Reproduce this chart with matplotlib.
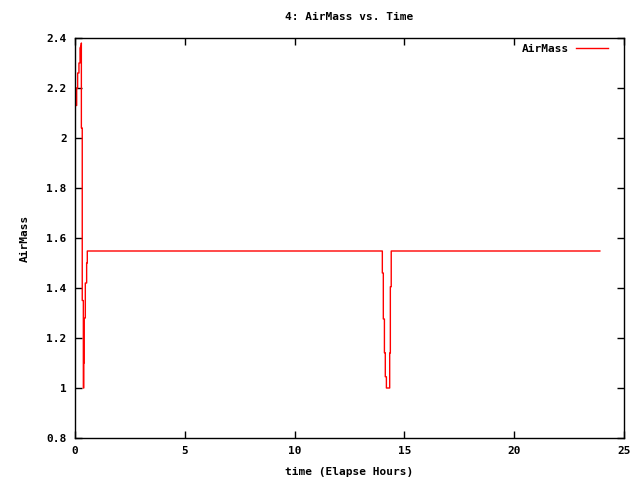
import matplotlib
matplotlib.use("Agg")
import matplotlib.pyplot as plt

# elapsed time (hours) and airmass
time_h = [0.0, 0.0, 0.015, 0.015, 0.076, 0.076, 0.12, 0.12, 0.18, 0.18, 0.23, 0.23,
          0.28, 0.29, 0.29, 0.33, 0.33, 0.38, 0.38, 0.40, 0.40, 0.42, 0.42, 0.47,
          0.47, 0.53, 0.53, 0.56, 0.56,
          13.995, 13.995, 14.04, 14.04, 14.09, 14.09, 14.13, 14.13, 14.18, 14.18,
          14.33, 14.33, 14.36, 14.36, 14.40, 14.40, 23.9]
airmass = [2.07, 2.09, 2.09, 2.13, 2.13, 2.20, 2.20, 2.26, 2.26, 2.30, 2.30, 2.36,
           2.37, 2.38, 2.04, 2.04, 1.35, 1.35, 1.00, 1.00, 1.10, 1.10, 1.28, 1.28,
           1.42, 1.42, 1.50, 1.50, 1.548,
           1.548, 1.46, 1.46, 1.276, 1.276, 1.141, 1.141, 1.045, 1.045, 1.0,
           1.0, 1.14, 1.14, 1.405, 1.405, 1.548, 1.548]

xticks = [0, 5, 10, 15, 20, 25]
yticks = [0.8, 1.0, 1.2, 1.4, 1.6, 1.8, 2.0, 2.2, 2.4]

font = {"family": "DejaVu Sans Mono", "size": 8, "weight": "bold"}

fig = plt.figure(figsize=(6.4, 4.8), dpi=100)
ax = fig.add_axes([75 / 640, 42 / 480, 549 / 640, 400 / 480])

ax.plot(time_h, airmass, color="red", linewidth=1, label="AirMass")

ax.set_xlim(0, 25)
ax.set_ylim(0.8, 2.4)
ax.set_xticks(xticks)
ax.set_yticks(yticks)
ax.set_xticklabels([str(x) for x in xticks], fontdict=font)
ax.set_yticklabels(["%g" % y for y in yticks], fontdict=font)
ax.tick_params(direction="in", length=5, width=1, top=True, right=True, pad=6)
for sp in ax.spines.values():
    sp.set_linewidth(1)

ax.set_title("4: AirMass vs. Time", fontdict=font, pad=13)
ax.set_xlabel("time (Elapse Hours)", fontdict=font, labelpad=8)
ax.set_ylabel("AirMass", fontdict=font, labelpad=12)

leg = ax.legend(loc="upper right", bbox_to_anchor=(1 - 8 / 549, 1 + 2 / 400),
                frameon=False, markerfirst=False, prop=font,
                handlelength=2.9, handletextpad=0.65, borderaxespad=0.3)

fig.savefig("out.png", dpi=100)
